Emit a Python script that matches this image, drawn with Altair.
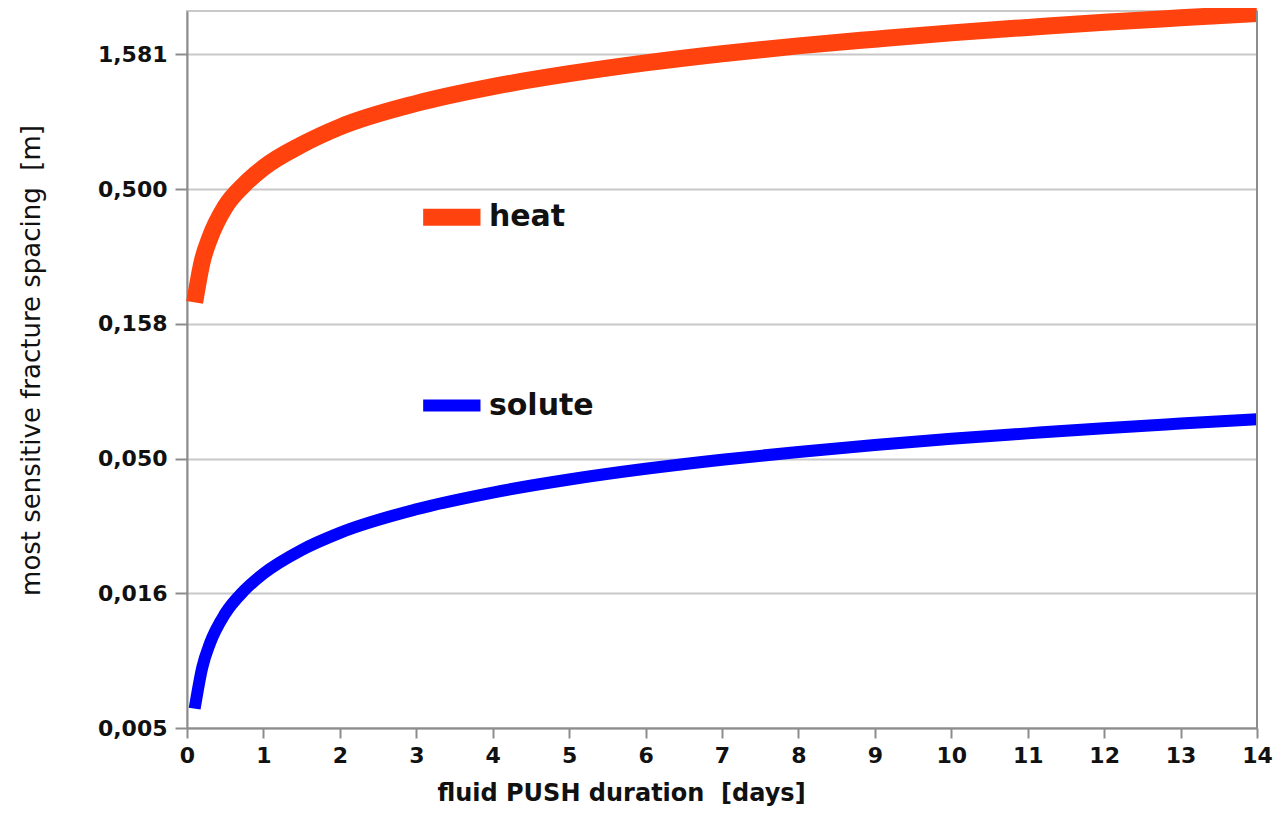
import altair as alt
import pandas as pd

# fluid PUSH duration [days]
days = [0.1, 0.2, 0.3, 0.5, 0.75, 1, 1.5, 2, 3, 4, 5, 6, 7, 8, 9, 10, 11, 12, 13, 14]
# most sensitive fracture spacing [m]
heat = [0.19, 0.27, 0.33, 0.43, 0.52, 0.60, 0.73, 0.85, 1.04, 1.20, 1.34, 1.47,
        1.59, 1.70, 1.80, 1.90, 1.99, 2.08, 2.16, 2.24]
solute = [0.0059, 0.0084, 0.0103, 0.0133, 0.0162, 0.0187, 0.0229, 0.0265, 0.0324,
          0.0374, 0.0418, 0.0458, 0.0495, 0.0529, 0.0561, 0.0592, 0.0620, 0.0648,
          0.0674, 0.0700]

series_names = ["heat", "solute"]
series_colors = ["#ff420e", "#0000ff"]
series_widths = [17, 12]
y_ticks = [0.005, 0.0158114, 0.05, 0.158114, 0.5, 1.581139]
x_ticks = list(range(0, 15))

# inline legend positions (in data units)
legend_x0 = [3.09, 3.09]
legend_x1 = [3.84, 3.84]
legend_y = [0.393, 0.0786]
legend_tx = [3.95, 3.95]

FONT = "DejaVu Sans"

rows = []
for d, h, s in zip(days, heat, solute):
    rows.append({"days": d, "value": h, "series": "heat"})
    rows.append({"days": d, "value": s, "series": "solute"})
df = pd.DataFrame(rows)

leg = pd.DataFrame({"series": series_names, "x0": legend_x0, "x1": legend_x1,
                    "y": legend_y, "tx": legend_tx})

xscale = alt.Scale(domain=[0, 14], nice=False)
yscale = alt.Scale(type="log", domain=[0.005, 2.29], nice=False)
color = alt.Color("series:N", scale=alt.Scale(domain=series_names, range=series_colors), legend=None)
width = alt.StrokeWidth("series:N", scale=alt.Scale(domain=series_names, range=series_widths), legend=None)

lines = alt.Chart(df).mark_line(strokeCap="butt", strokeJoin="round", interpolate="monotone").encode(
    x=alt.X("days:Q", scale=xscale,
            axis=alt.Axis(values=x_ticks, format="d", title="fluid PUSH duration \u00a0[days]",
                          grid=False, titleX=434, titleY=65, titleBaseline="middle",
                          titleFontSize=24, labelPadding=7, labelFlush=False)),
    y=alt.Y("value:Q", scale=yscale,
            axis=alt.Axis(values=y_ticks, title="most sensitive fracture spacing \u00a0[m]",
                          labelExpr="replace(format(datum.value, '.3f'), '.', ',')",
                          grid=True, titleX=-143, titleY=349, titleFontWeight="normal",
                          titleFontSize=26, labelPadding=8, labelFlush=False)),
    color=color,
    strokeWidth=width,
    order="days:Q",
)

swatches = alt.Chart(leg).mark_rule(strokeCap="butt").encode(
    x="x0:Q", x2="x1:Q", y="y:Q", color=color, strokeWidth=width,
)

labels = alt.Chart(leg).mark_text(align="left", baseline="middle", font=FONT,
                                  fontSize=30, fontWeight="bold", color="#111111").encode(
    x="tx:Q", y="y:Q", text="series:N",
)

right_border = alt.Chart(leg).mark_rule(color="#8c8c8c", strokeWidth=2).encode(
    x=alt.datum(14), y=alt.value(0), y2=alt.value(717)
)

chart = alt.layer(lines, swatches, labels, right_border).properties(
    width=1070, height=717,
    autosize=alt.AutoSizeParams(type="none"),
    padding={"left": 179, "top": 3, "right": 18, "bottom": 80},
).configure_view(
    stroke="#c8c8c8", strokeWidth=2
).configure_axis(
    labelFont=FONT, labelFontSize=22, labelFontWeight="bold", labelColor="#111111",
    titleFont=FONT, titleFontSize=22, titleFontWeight="bold", titleColor="#111111",
    domainColor="#8c8c8c", domainWidth=2, tickColor="#8c8c8c", tickWidth=2,
    tickSize=12, gridColor="#c8c8c8", gridWidth=2,
).configure_axisX(tickSize=10)

chart.save("out.html", embed_options={"renderer": "svg", "actions": False})
